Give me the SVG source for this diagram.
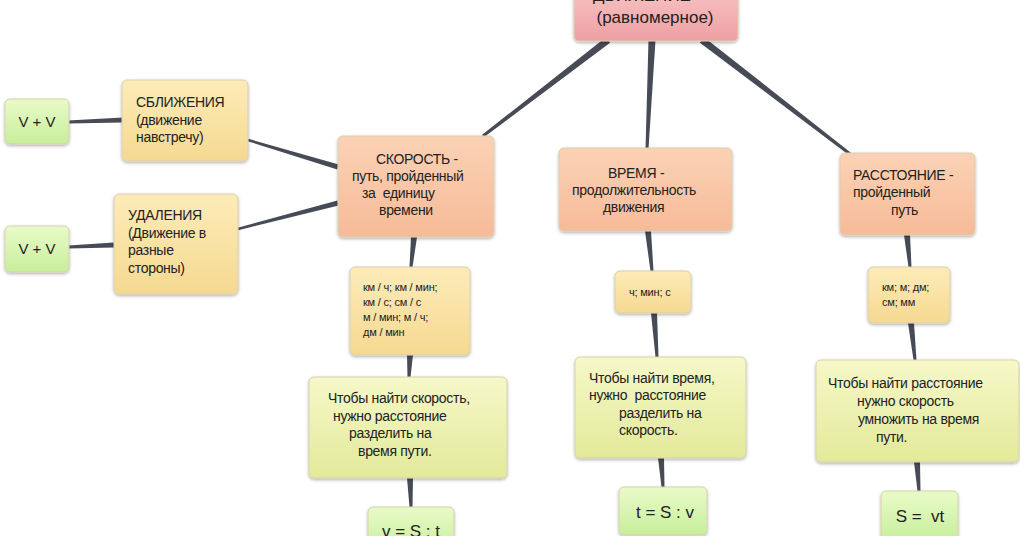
<svg xmlns="http://www.w3.org/2000/svg" width="1020" height="536" viewBox="0 0 1020 536">
<defs>
<linearGradient id="gPink" x1="0" y1="0" x2="0" y2="1"><stop offset="0" stop-color="#f7c2c3"/><stop offset="1" stop-color="#ee9fa3"/></linearGradient>
<linearGradient id="gPeach" x1="0" y1="0" x2="0" y2="1"><stop offset="0" stop-color="#fbd2b6"/><stop offset="1" stop-color="#f6bb98"/></linearGradient>
<linearGradient id="gYellow" x1="0" y1="0" x2="0" y2="1"><stop offset="0" stop-color="#fdebb8"/><stop offset="1" stop-color="#f5d991"/></linearGradient>
<linearGradient id="gLime" x1="0" y1="0" x2="0" y2="1"><stop offset="0" stop-color="#f6f8c8"/><stop offset="1" stop-color="#e2ea9a"/></linearGradient>
<linearGradient id="gGreen" x1="0" y1="0" x2="0" y2="1"><stop offset="0" stop-color="#e9fbc8"/><stop offset="1" stop-color="#c7ee9c"/></linearGradient>
<filter id="sh" x="-10%" y="-10%" width="120%" height="130%"><feDropShadow dx="0" dy="1.5" stdDeviation="1.5" flood-color="#000" flood-opacity="0.3"/></filter>
</defs>
<style>
rect.n{rx:5px;ry:5px;stroke:#d9cfae;stroke-width:1;filter:url(#sh)}
.pink{fill:url(#gPink);stroke:#e6a3a5}
.peach{fill:url(#gPeach);stroke:#e9b898}
.yellow{fill:url(#gYellow);stroke:#e5d095}
.lime{fill:url(#gLime);stroke:#d6dc9c}
.green{fill:url(#gGreen);stroke:#bfe09c}
text{font-family:"Liberation Sans",Arial,sans-serif;fill:#222;font-size:14px;letter-spacing:-0.3px;white-space:pre}
text.s{font-size:11px;letter-spacing:-0.2px}
text.f{font-size:17px;letter-spacing:0}
text.t{font-size:17px;letter-spacing:0}
text.v{font-size:15px;letter-spacing:0}
#connectors polygon{fill:#464b56}
</style>
<rect width="1020" height="536" fill="#ffffff"/>
<g id="connectors">
<polygon points="605.9,37.2 482.1,134.8 483.9,137.2 610.1,42.8"/>
<polygon points="648.5,40 645.5,149 648.5,149 655.5,40"/>
<polygon points="699.9,42.8 849.1,155.2 850.9,152.8 704.1,37.2"/>
<polygon points="338.7,164.6 248.4,138.8 247.6,141.2 337.3,169.4"/>
<polygon points="337.4,200.6 237.7,227.8 238.3,230.2 338.6,205.4"/>
<polygon points="123,117.5 68,120.5 68,123.5 123,122.5"/>
<polygon points="114,242.5 68,245.5 68,248.5 114,247.5"/>
<polygon points="411,237 409.5,267 412.5,267 417,237"/>
<polygon points="407,355 407.5,377 410.5,377 413,355"/>
<polygon points="407,478 409.5,507 412.5,507 413,478"/>
<polygon points="645,231 650.5,271 653.5,271 651,231"/>
<polygon points="651,313 655.5,357 658.5,357 657,313"/>
<polygon points="658,458 661.5,487 664.5,487 664,458"/>
<polygon points="904,235 908.5,267 911.5,267 910,235"/>
<polygon points="908,323 913.5,360 916.5,360 914,323"/>
<polygon points="914,462 917.5,491 920.5,491 920,462"/>
</g>
<g id="n-top">
<rect class="n pink" x="574" y="-10" width="164" height="51"/>
<text class="t" x="642" y="1" text-anchor="middle">ДВИЖЕНИЕ</text>
<text class="t" x="655" y="23" text-anchor="middle">(равномерное)</text>
</g>
<g id="n-speed">
<rect class="n peach" x="338" y="136" width="156" height="101"/>
<text x="376" y="164">СКОРОСТЬ -</text>
<text x="352" y="181">путь, пройденный</text>
<text x="362" y="198" xml:space="preserve">за  единицу</text>
<text x="379" y="215">времени</text>
</g>
<g id="n-time">
<rect class="n peach" x="559" y="148" width="173" height="83"/>
<text x="608" y="178">ВРЕМЯ -</text>
<text x="572" y="195">продолжительность</text>
<text x="603" y="212">движения</text>
</g>
<g id="n-dist">
<rect class="n peach" x="840" y="153" width="135" height="82"/>
<text x="853" y="180">РАССТОЯНИЕ -</text>
<text x="853" y="197">пройденный</text>
<text x="891" y="215">путь</text>
</g>
<g id="n-approach">
<rect class="n yellow" x="122" y="80" width="126" height="81"/>
<text x="136" y="107">СБЛИЖЕНИЯ</text>
<text x="136" y="125">(движение</text>
<text x="136" y="142">навстречу)</text>
</g>
<g id="n-apart">
<rect class="n yellow" x="114" y="194" width="124" height="100"/>
<text x="128" y="220">УДАЛЕНИЯ</text>
<text x="128" y="238">(Движение в</text>
<text x="128" y="255">разные</text>
<text x="128" y="273">стороны)</text>
</g>
<g id="n-vv1">
<rect class="n green" x="5" y="99" width="64" height="45"/>
<text class="v" x="37" y="127" text-anchor="middle">V + V</text>
</g>
<g id="n-vv2">
<rect class="n green" x="5" y="226" width="64" height="46"/>
<text class="v" x="37" y="254" text-anchor="middle">V + V</text>
</g>
<g id="n-speed-units">
<rect class="n yellow" x="350" y="267" width="120" height="88"/>
<text class="s" x="363" y="291">км / ч; км / мин;</text>
<text class="s" x="363" y="306">км / с; см / с</text>
<text class="s" x="363" y="321">м / мин; м / ч;</text>
<text class="s" x="363" y="336">дм / мин</text>
</g>
<g id="n-time-units">
<rect class="n yellow" x="615" y="271" width="76" height="42"/>
<text class="s" x="629" y="296">ч; мин; с</text>
</g>
<g id="n-dist-units">
<rect class="n yellow" x="868" y="267" width="82" height="56"/>
<text class="s" x="882" y="291">км; м; дм;</text>
<text class="s" x="882" y="306">см; мм</text>
</g>
<g id="n-speed-rule">
<rect class="n lime" x="309" y="377" width="198" height="101"/>
<text x="328" y="403">Чтобы найти скорость,</text>
<text x="333" y="421">нужно расстояние</text>
<text x="349" y="438">разделить на</text>
<text x="358" y="456">время пути.</text>
</g>
<g id="n-time-rule">
<rect class="n lime" x="575" y="357" width="171" height="101"/>
<text x="589" y="383">Чтобы найти время,</text>
<text x="589" y="400" xml:space="preserve">нужно  расстояние</text>
<text x="619" y="418">разделить на</text>
<text x="619" y="435">скорость.</text>
</g>
<g id="n-dist-rule">
<rect class="n lime" x="816" y="360" width="203" height="102"/>
<text x="828" y="388">Чтобы найти расстояние</text>
<text x="857" y="406">нужно скорость</text>
<text x="858" y="424">умножить на время</text>
<text x="876" y="442">пути.</text>
</g>
<g id="n-speed-formula">
<rect class="n green" x="368" y="507" width="86" height="45"/>
<text class="f" x="411" y="537" text-anchor="middle">v = S : t</text>
</g>
<g id="n-time-formula">
<rect class="n green" x="619" y="487" width="88" height="48"/>
<text class="f" x="665" y="518" text-anchor="middle">t = S : v</text>
</g>
<g id="n-dist-formula">
<rect class="n green" x="881" y="491" width="77" height="50"/>
<text class="f" x="920" y="522" text-anchor="middle" xml:space="preserve">S =  vt</text>
</g>
</svg>
